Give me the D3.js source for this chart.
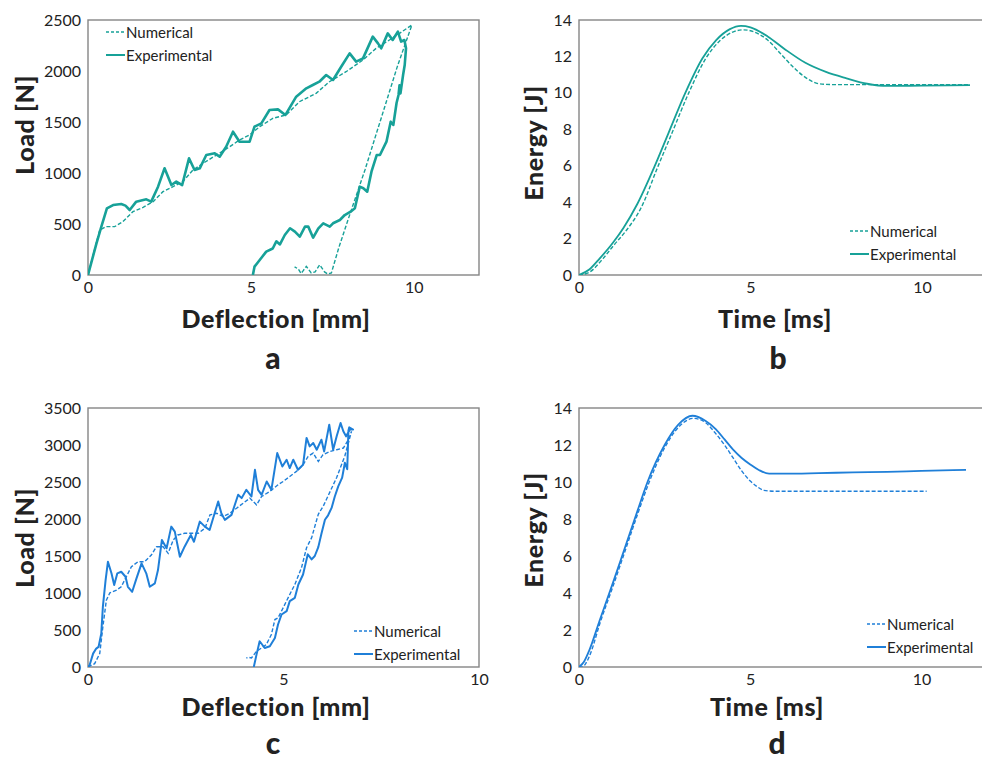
<!DOCTYPE html>
<html>
<head>
<meta charset="utf-8">
<script src="https://cdn.jsdelivr.net/npm/d3@7"></script>
<style>
  html, body { margin: 0; padding: 0; background: #fff; overflow: hidden; }
  svg text { font-family: Lato, "Open Sans", sans-serif; fill: #222; }
</style>
</head>
<body>
<svg id="chart" width="982" height="762"></svg>
<script>
// ---------- Data ----------
const seriesNames = ["Numerical", "Experimental"];
const panelLetters = ["a", "b", "c", "d"];

// Panel a: Load [N] vs Deflection [mm]
const aExpX = [0, 0.26, 0.41, 0.58, 0.77, 1.02, 1.15, 1.28, 1.48, 1.79, 1.94, 2.15, 2.35, 2.56, 2.71, 2.89, 3.1, 3.27, 3.43, 3.63, 3.89, 4.04, 4.24, 4.45, 4.65, 4.96, 5.11, 5.32, 5.57, 5.83, 6.06, 6.39, 6.7, 6.9, 7.1, 7.31, 7.52, 7.77, 8.03, 8.23, 8.44, 8.74, 8.9, 9.0, 9.2, 9.35, 9.51, 9.61, 9.71, 9.76,
  9.72, 9.67, 9.59, 9.56, 9.53, 9.47, 9.37, 9.29, 9.16, 8.96, 8.86, 8.7, 8.57, 8.45, 8.34, 8.19, 8.06, 7.88, 7.73, 7.52, 7.42, 7.22, 7.07, 6.91, 6.76, 6.66, 6.5, 6.35, 6.2, 6.04, 5.89, 5.78, 5.67, 5.47, 5.27, 5.11, 5.06];
const aExpY = [0, 310, 474, 654, 686, 696, 680, 637, 719, 742, 719, 866, 1046, 882, 915, 882, 1144, 1029, 1046, 1176, 1193, 1160, 1258, 1405, 1307, 1307, 1454, 1487, 1618, 1624, 1569, 1748, 1830, 1863, 1895, 1961, 1912, 2042, 2173, 2092, 2124, 2337, 2271, 2222, 2369, 2304, 2386, 2288, 2304, 2222,
  2059, 1961, 1781, 1860, 1765, 1686, 1471, 1503, 1307, 1176, 1176, 1013, 817, 850, 866, 654, 621, 588, 539, 507, 474, 507, 458, 366, 474, 474, 376, 425, 458, 392, 300, 330, 260, 229, 147, 82, 0];
const aNumX = [0, 0.26, 0.36, 0.56, 0.82, 1.07, 1.38, 1.69, 2.0, 2.3, 2.61, 2.91, 3.22, 3.53, 3.94, 4.35, 4.65, 4.96, 5.27, 5.67, 6.08, 6.49, 7.0, 7.41, 7.92, 8.44, 8.84, 9.25, 9.56, 9.94,
  9.5, 9.0, 8.5, 8.0, 7.7, 7.47, 7.36, 7.26, 7.11, 6.97, 6.85, 6.7, 6.6, 6.54, 6.45, 6.34];
const aNumY = [0, 320, 441, 474, 474, 523, 621, 663, 719, 817, 866, 915, 1029, 1095, 1176, 1258, 1324, 1373, 1454, 1536, 1569, 1699, 1781, 1895, 1993, 2108, 2222, 2304, 2369, 2451,
  2050, 1540, 1030, 560, 270, 20, 10, 30, 100, 30, 20, 85, 40, 15, 60, 80];

// Panel b: Energy [J] vs Time [ms]
const bExpT = [0, 0.3, 0.6, 1.0, 1.3, 1.7, 2.2, 2.6, 3.1, 3.6, 4.0, 4.4, 4.72, 5.0, 5.5, 6.0, 6.6, 7.2, 7.8, 8.4, 9.0, 10, 11.4];
const bExpE = [0, 0.3, 0.9, 1.8, 2.6, 3.9, 5.95, 7.75, 10.0, 11.9, 12.9, 13.5, 13.68, 13.6, 13.1, 12.4, 11.65, 11.15, 10.8, 10.5, 10.38, 10.4, 10.42];
const bNumT = [0, 0.3, 0.7, 1.0, 1.4, 1.8, 2.3, 2.7, 3.2, 3.7, 4.1, 4.5, 4.8, 5.1, 5.5, 5.9, 6.2, 6.6, 7.0, 7.5, 8.5, 10, 11.4];
const bNumE = [0, 0.15, 0.9, 1.6, 2.5, 3.65, 5.95, 7.75, 10.0, 11.9, 12.85, 13.35, 13.46, 13.35, 12.9, 12.1, 11.5, 10.85, 10.5, 10.45, 10.45, 10.45, 10.45];

// Panel c: Load [N] vs Deflection [mm]
const cExpX = [0, 0.04, 0.13, 0.21, 0.27, 0.34, 0.38, 0.45, 0.51, 0.6, 0.67, 0.75, 0.85, 0.96, 1.02, 1.13, 1.24, 1.37, 1.49, 1.58, 1.71, 1.79, 1.89, 2.01, 2.13, 2.22, 2.35, 2.47, 2.63, 2.71, 2.86, 2.99, 3.11, 3.2, 3.33, 3.41, 3.5, 3.67, 3.84, 3.93, 4.05, 4.18, 4.27, 4.35, 4.44, 4.57, 4.69, 4.84, 4.97, 5.08, 5.16, 5.25, 5.37, 5.5, 5.59, 5.67, 5.76, 5.85, 5.97, 6.04, 6.17, 6.27, 6.36, 6.46, 6.53, 6.6, 6.7, 6.78,
  6.68, 6.66, 6.63, 6.57, 6.5, 6.4, 6.31, 6.23, 6.14, 6.06, 5.97, 5.89, 5.8, 5.72, 5.62, 5.5, 5.38, 5.29, 5.16, 5.08, 4.95, 4.86, 4.78, 4.65, 4.52, 4.39, 4.31, 4.24];
const cExpY = [0, 23, 181, 249, 271, 452, 813, 1175, 1423, 1266, 1107, 1266, 1287, 1220, 1084, 1016, 1198, 1401, 1266, 1084, 1130, 1310, 1717, 1604, 1897, 1829, 1490, 1626, 1784, 1693, 1965, 1897, 1852, 2011, 2236, 2078, 1988, 2056, 2327, 2282, 2394, 2304, 2665, 2394, 2327, 2507, 2394, 2891, 2710, 2801, 2688, 2801, 2665, 2733, 3095, 2981, 3027, 2936, 3072, 2913, 3275, 2936, 3117, 3298, 3185, 3117, 3208, 3208,
  3238, 3193, 2673, 2760, 2560, 2440, 2300, 2150, 2050, 1990, 1800, 1620, 1500, 1454, 1522, 1250, 1115, 935, 890, 754, 709, 574, 393, 280, 257, 348, 167, 0];
const cNumX = [0, 0.17, 0.3, 0.38, 0.47, 0.56, 0.73, 0.85, 0.98, 1.11, 1.28, 1.45, 1.62, 1.75, 1.92, 2.05, 2.18, 2.3, 2.47, 2.65, 2.82, 2.99, 3.12, 3.29, 3.46, 3.63, 3.8, 3.97, 4.14, 4.31, 4.44, 4.65, 4.86, 4.99, 5.16, 5.33, 5.5, 5.63, 5.76, 5.89, 6.01, 6.19, 6.36, 6.53, 6.66, 6.74,
  6.57, 6.36, 6.14, 6.02, 5.89, 5.72, 5.59, 5.46, 5.29, 5.16, 4.99, 4.86, 4.78, 4.69, 4.56, 4.44, 4.31, 4.18, 4.1, 4.05];
const cNumY = [0, 45, 181, 542, 904, 1003, 1039, 1084, 1220, 1355, 1423, 1423, 1513, 1626, 1626, 1536, 1717, 1784, 1807, 1807, 1807, 1875, 2056, 2078, 2033, 2078, 2146, 2214, 2282, 2191, 2304, 2372, 2462, 2507, 2575, 2643, 2733, 2846, 2891, 2778, 2869, 2913, 2936, 2959, 3072, 3185,
  2854, 2561, 2312, 2177, 2064, 1748, 1612, 1341, 1115, 980, 799, 664, 641, 438, 303, 257, 212, 122, 131, 122];

// Panel d: Energy [J] vs Time [ms]
const dExpT = [0, 0.15, 0.3, 0.6, 1.0, 1.35, 1.7, 2.0, 2.5, 2.9, 3.31, 3.7, 4.0, 4.25, 4.5, 4.75, 5.0, 5.25, 5.55, 6.0, 7, 8, 9, 10, 11.3];
const dExpE = [0, 0.3, 0.9, 2.5, 4.6, 6.5, 8.4, 10.0, 12.0, 13.1, 13.58, 13.3, 12.85, 12.3, 11.75, 11.3, 10.95, 10.65, 10.45, 10.45, 10.48, 10.52, 10.55, 10.6, 10.65];
const dNumT = [0, 0.1, 0.2, 0.35, 0.6, 1.0, 1.35, 1.7, 2.05, 2.5, 2.9, 3.35, 3.7, 4.0, 4.25, 4.5, 4.75, 5.0, 5.2, 5.4, 5.7, 7, 8.5, 10.15];
const dNumE = [0, 0, 0.2, 0.8, 2.3, 4.4, 6.3, 8.2, 10.0, 11.85, 12.95, 13.44, 13.2, 12.6, 12.0, 11.3, 10.6, 10.05, 9.75, 9.55, 9.5, 9.5, 9.5, 9.5];

// Tick values
const loadTicksA = [0, 500, 1000, 1500, 2000, 2500];
const loadTicksC = [0, 500, 1000, 1500, 2000, 2500, 3000, 3500];
const energyTicks = [0, 2, 4, 6, 8, 10, 12, 14];
const deflTicks = [0, 5, 10];
const timeTicks = [0, 5, 10];

// ---------- Drawing ----------
const TEAL = "#17a198";
const BLUE = "#1f7fd8";
const svg = d3.select("#chart");

function zip(xs, ys) { return xs.map((x, i) => [x, ys[i]]); }

function panel(cfg) {
  const x = d3.scaleLinear().domain(cfg.xDomain).range([cfg.left, cfg.right]);
  const y = d3.scaleLinear().domain(cfg.yDomain).range([cfg.bottom, cfg.top]);
  const g = svg.append("g");

  const clipId = "clip-" + cfg.letter;
  g.append("clipPath").attr("id", clipId).append("rect")
    .attr("x", cfg.left).attr("y", cfg.top - 5)
    .attr("width", cfg.right - cfg.left + 5).attr("height", cfg.bottom - cfg.top + 5);

  // frame
  g.append("rect").attr("x", cfg.left).attr("y", cfg.top)
    .attr("width", cfg.right - cfg.left).attr("height", cfg.bottom - cfg.top)
    .attr("fill", "none").attr("stroke", "#858585").attr("stroke-width", 1.4);

  // axes (labels only, no tick marks)
  const yAxis = d3.axisLeft(y).tickValues(cfg.yTicks).tickSize(0).tickPadding(7).tickFormat(d3.format("d"));
  const ya = g.append("g").attr("transform", `translate(${cfg.left},0)`).call(yAxis);
  const xAxis = d3.axisBottom(x).tickValues(cfg.xTicks).tickSize(0).tickPadding(7).tickFormat(d3.format("d"));
  const xa = g.append("g").attr("transform", `translate(0,${cfg.bottom})`).call(xAxis);
  [ya, xa].forEach(a => {
    a.select(".domain").remove();
    a.selectAll("text").attr("font-size", 16).attr("fill", "#333")
      .style("font-family", "Lato, 'Open Sans', sans-serif");
  });

  const line = d3.line().x(d => x(d[0])).y(d => y(d[1])).curve(cfg.curve);
  const plot = g.append("g").attr("clip-path", `url(#${clipId})`);
  plot.append("path").datum(zip(cfg.expX, cfg.expY))
    .attr("fill", "none").attr("stroke", cfg.color).attr("stroke-width", cfg.expWidth)
    .attr("stroke-linejoin", "round").attr("d", line);
  plot.append("path").datum(zip(cfg.numX, cfg.numY))
    .attr("fill", "none").attr("stroke", cfg.color).attr("stroke-width", 1.4)
    .attr("stroke-dasharray", "4,2").attr("d", line);

  // axis titles
  g.append("text").attr("x", cfg.xTitlePos[0]).attr("y", cfg.xTitlePos[1])
    .attr("text-anchor", "middle").attr("font-size", 25).attr("font-weight", 900)
    .attr("letter-spacing", 0.6).attr("fill", "#111").text(cfg.xTitle);
  g.append("text")
    .attr("transform", `translate(${cfg.yTitlePos[0]},${cfg.yTitlePos[1]}) rotate(-90)`)
    .attr("text-anchor", "middle").attr("dominant-baseline", "central")
    .attr("font-size", 25).attr("font-weight", 900).attr("letter-spacing", 0.6)
    .attr("fill", "#111").text(cfg.yTitle);

  // panel letter
  g.append("text").attr("x", cfg.letterPos[0]).attr("y", cfg.letterPos[1])
    .attr("text-anchor", "middle").attr("font-size", 30).attr("font-weight", 900)
    .attr("fill", "#111").text(cfg.letter);

  // legend
  const lg = g.append("g").attr("transform", `translate(${cfg.legend[0]},${cfg.legend[1]})`);
  seriesNames.forEach((name, i) => {
    const yy = i * 23;
    lg.append("line").attr("x1", 0).attr("x2", 19).attr("y1", yy).attr("y2", yy)
      .attr("stroke", cfg.color).attr("stroke-width", i === 0 ? 1.4 : 2)
      .attr("stroke-dasharray", i === 0 ? "3,2" : null);
    lg.append("text").attr("x", 20).attr("y", yy).attr("dominant-baseline", "central")
      .attr("font-size", 15).attr("fill", "#333").text(name);
  });
}

panel({ letter: panelLetters[0], left: 88, right: 479, top: 20, bottom: 275,
  xDomain: [0, 12], yDomain: [0, 2500], xTicks: deflTicks, yTicks: loadTicksA,
  expX: aExpX, expY: aExpY, numX: aNumX, numY: aNumY, color: TEAL, expWidth: 2.6,
  curve: d3.curveLinear, xTitle: "Deflection [mm]", yTitle: "Load [N]",
  xTitlePos: [276, 328], yTitlePos: [24, 125], letterPos: [273, 369], legend: [106, 32] });

panel({ letter: panelLetters[1], left: 579, right: 990.6, top: 20, bottom: 275,
  xDomain: [0, 12], yDomain: [0, 14], xTicks: timeTicks, yTicks: energyTicks,
  expX: bExpT, expY: bExpE, numX: bNumT, numY: bNumE, color: TEAL, expWidth: 1.8,
  curve: d3.curveMonotoneX, xTitle: "Time [ms]", yTitle: "Energy [J]",
  xTitlePos: [775, 328], yTitlePos: [533, 143], letterPos: [778, 369], legend: [850, 231] });

panel({ letter: panelLetters[2], left: 88, right: 479, top: 408, bottom: 667,
  xDomain: [0, 10], yDomain: [0, 3500], xTicks: deflTicks, yTicks: loadTicksC,
  expX: cExpX, expY: cExpY, numX: cNumX, numY: cNumY, color: BLUE, expWidth: 2,
  curve: d3.curveLinear, xTitle: "Deflection [mm]", yTitle: "Load [N]",
  xTitlePos: [276, 716], yTitlePos: [24, 538], letterPos: [273, 754], legend: [354, 631] });

panel({ letter: panelLetters[3], left: 579, right: 990, top: 408, bottom: 667,
  xDomain: [0, 12], yDomain: [0, 14], xTicks: timeTicks, yTicks: energyTicks,
  expX: dExpT, expY: dExpE, numX: dNumT, numY: dNumE, color: BLUE, expWidth: 1.8,
  curve: d3.curveMonotoneX, xTitle: "Time [ms]", yTitle: "Energy [J]",
  xTitlePos: [767, 716], yTitlePos: [533, 530], letterPos: [777, 754], legend: [867, 624] });
</script>
</body>
</html>
